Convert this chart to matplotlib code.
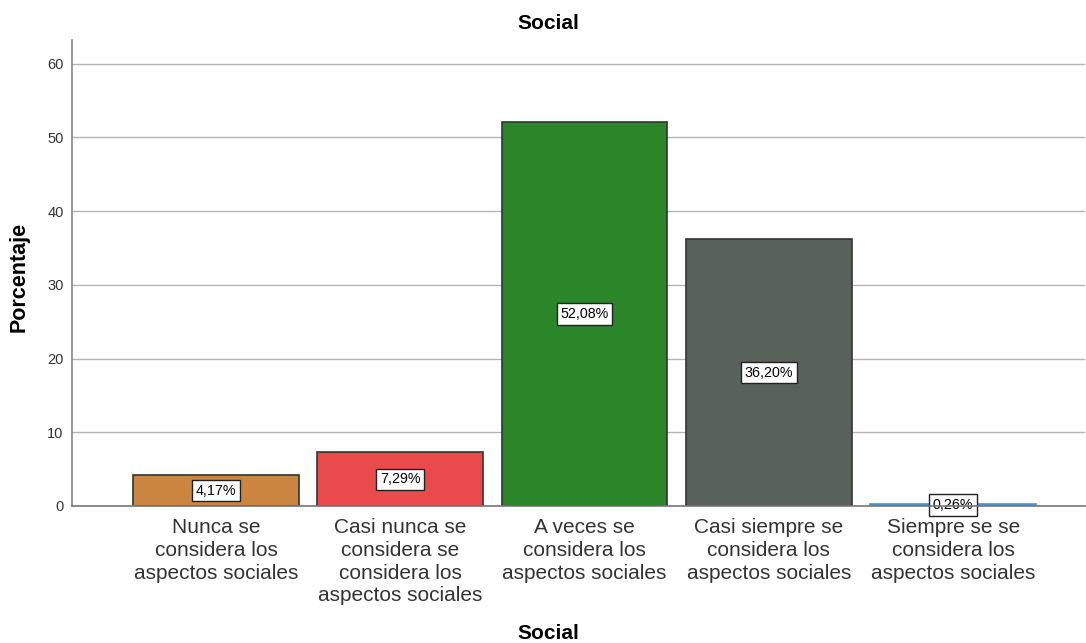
import matplotlib
matplotlib.use("Agg")
import matplotlib.pyplot as plt

# data
categories = [
    "Nunca se\nconsidera los\naspectos sociales",
    "Casi nunca se\nconsidera se\nconsidera los\naspectos sociales",
    "A veces se\nconsidera los\naspectos sociales",
    "Casi siempre se\nconsidera los\naspectos sociales",
    "Siempre se se\nconsidera los\naspectos sociales",
]
porcentajes = [4.17, 7.29, 52.08, 36.20, 0.26]
etiquetas = ["4,17%", "7,29%", "52,08%", "36,20%", "0,26%"]
colores = ["#CC8540", "#EB4A4C", "#2A8628", "#58625A", "#4A90D9"]
bordes = ["#333333", "#333333", "#333333", "#333333", "#4A90D9"]

plt.rcParams["font.family"] = ["Liberation Sans", "DejaVu Sans"]

fig = plt.figure(figsize=(10.86, 6.43), dpi=100)
ax = fig.add_axes([0.0663, 0.2131, 0.9327, 0.7247])

x = list(range(len(categories)))
ax.bar(x, porcentajes, width=0.9, color=colores, edgecolor=bordes,
       linewidth=1.2, zorder=3)

for xi, v, lab in zip(x, porcentajes, etiquetas):
    ax.text(xi, v / 2, lab, ha="center", va="center", fontsize=10.3,
            zorder=4,
            bbox=dict(boxstyle="square,pad=0.25", fc="white", ec="#222222",
                      lw=1))

ax.set_xlim(-0.781, 4.715)
ax.set_ylim(0, 63.2)
ax.set_yticks(range(0, 70, 10))
ax.yaxis.grid(True, color="#B4B4B4", linewidth=1, zorder=0)
ax.set_xticks(x)
ax.set_xticklabels(categories, fontsize=15, color="#333333",
                   linespacing=1.24)
ax.tick_params(axis="y", labelsize=10.5, labelcolor="#333333", length=0, pad=6)
ax.tick_params(axis="x", length=0, pad=9)

for s in ["top", "right"]:
    ax.spines[s].set_visible(False)
ax.spines["left"].set_color("#888888")
ax.spines["left"].set_linewidth(1.2)
ax.spines["bottom"].set_color("#777777")
ax.spines["bottom"].set_linewidth(1.2)
ax.spines["bottom"].set_zorder(5)

fig.text(0.505, 0.964, "Social", ha="center", va="center", fontsize=15,
         fontweight="bold")
fig.text(0.505, 0.014, "Social", ha="center", va="center", fontsize=15,
         fontweight="bold")
fig.text(0.018, 0.57, "Porcentaje", ha="center", va="center", rotation=90,
         fontsize=15.5, fontweight="bold")

fig.savefig("out.png", dpi=100)
